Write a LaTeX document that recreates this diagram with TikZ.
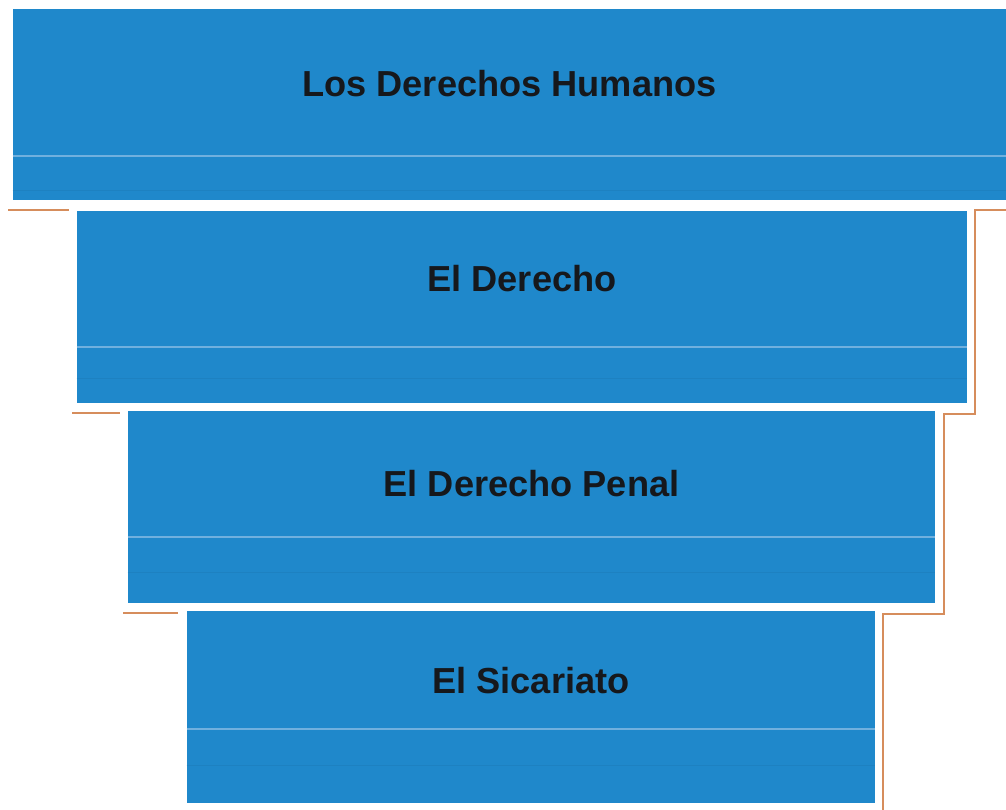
\documentclass[tikz,border=0pt]{standalone}
\usepackage{fontspec}
\setmainfont{Liberation Sans}
\usetikzlibrary{positioning}
\definecolor{A}{RGB}{31, 136, 203}
\definecolor{L}{RGB}{112, 176, 222}
\definecolor{O}{RGB}{214, 141, 92}
\definecolor{T}{RGB}{22, 24, 28}
\tikzset{
	caja/.style={fill=A, draw=none, inner sep=0pt, minimum height=3.84cm},
	titulo/.style={text=T, font=\bfseries\fontsize{20.6}{24}\selectfont, anchor=base},
	raya/.style={color=L, line width=0.6pt},
	sombra/.style={color=A!95!black, line width=0.5pt},
	borde/.style={color=O, line width=1.4pt}
}

\begin{document}
\begin{tikzpicture}[x=0.02cm, y=-0.02cm]
	\useasboundingbox (0,0) rectangle (1006,810);

	%Las cuatro cajas, de mayor a menor
	\node[caja, minimum width=19.86cm, minimum height=3.82cm] (cajaA) at (509.5,104.5) {}; %Derechos Humanos
	\node[caja, minimum width=17.8cm] (cajaB) at (522,307) {}; %Derecho
	\node[caja, minimum width=16.14cm] (cajaC) at (531.5,507) {}; %Derecho Penal
	\node[caja, minimum width=13.76cm] (cajaD) at (531,707) {}; %Sicariato

	%Rayas claras y oscuras dentro de cada caja
	\draw[raya] (cajaA.west |- 0,156) -- (cajaA.east |- 0,156);
	\draw[sombra] (cajaA.west |- 0,190) -- (cajaA.east |- 0,190);
	\draw[raya] (cajaB.west |- 0,347) -- (cajaB.east |- 0,347);
	\draw[sombra] (cajaB.west |- 0,378) -- (cajaB.east |- 0,378);
	\draw[raya] (cajaC.west |- 0,537) -- (cajaC.east |- 0,537);
	\draw[sombra] (cajaC.west |- 0,572) -- (cajaC.east |- 0,572);
	\draw[raya] (cajaD.west |- 0,729) -- (cajaD.east |- 0,729);
	\draw[sombra] (cajaD.west |- 0,765) -- (cajaD.east |- 0,765);

	%Textos
	\node[titulo] (textoA) at (cajaA.center |- 0,97) {Los Derechos Humanos};
	\node[titulo] (textoB) at (cajaB.center |- 0,292) {El Derecho};
	\node[titulo] (textoC) at (cajaC.center |- 0,496) {El Derecho Penal};
	\node[titulo] (textoD) at (cajaD.center |- 0,693) {El Sicariato};

	%Bordes naranjas a la izquierda
	\draw[borde] (8,210) -- (69,210);
	\draw[borde] (72,413) -- (120,413);
	\draw[borde] (123,613) -- (178,613);

	%Escalera naranja a la derecha
	\draw[borde] (1006,210) -- (975,210) -- (975,414) -- (944,414)
		-- (944,614) -- (883,614) -- (883,810);
\end{tikzpicture}
\end{document}
